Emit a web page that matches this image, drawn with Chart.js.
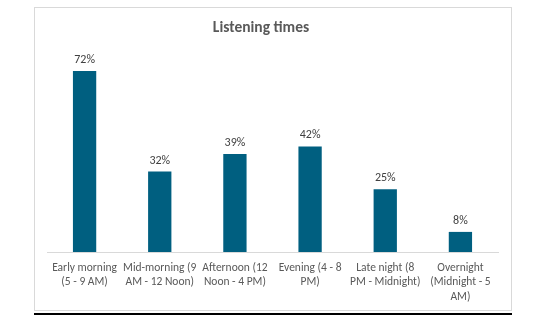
<!DOCTYPE html>
<html>
<head>
<meta charset="utf-8">
<script src="https://cdn.jsdelivr.net/npm/chart.js@4.4.1/dist/chart.umd.min.js"></script>
<style>
html,body{margin:0;padding:0;background:#fff;}
#wrap{position:relative;width:535px;height:326px;}
</style>
</head>
<body>
<div id="wrap"><canvas id="c" width="535" height="326"></canvas></div>
<script>
const chartTitle = "Listening times";
const categories = [
  ["Early morning", "(5 - 9 AM)"],
  ["Mid-morning (9", "AM - 12 Noon)"],
  ["Afternoon (12", "Noon - 4 PM)"],
  ["Evening (4 - 8", "PM)"],
  ["Late night (8", "PM - Midnight)"],
  ["Overnight", "(Midnight - 5", "AM)"]
];
const shares = [72, 32, 39, 42, 25, 8];

const FONT = "Carlito, Lato, 'Open Sans', sans-serif";

const decor = {
  id: 'decor',
  beforeDraw(chart) {
    const ctx = chart.ctx;
    ctx.save();
    ctx.fillStyle = '#fff';
    ctx.fillRect(0, 0, chart.width, chart.height);
    ctx.strokeStyle = '#D9D9D9';
    ctx.lineWidth = 1;
    ctx.strokeRect(34.5, 7.5, 477, 303);
    ctx.strokeStyle = '#000';
    ctx.lineWidth = 2;
    ctx.beginPath();
    ctx.moveTo(34, 314);
    ctx.lineTo(512, 314);
    ctx.stroke();
    ctx.restore();
  },
  afterDatasetsDraw(chart) {
    const ctx = chart.ctx;
    ctx.save();
    ctx.fillStyle = '#404040';
    ctx.font = "12px " + FONT;
    ctx.textAlign = 'center';
    ctx.textBaseline = 'bottom';
    const meta = chart.getDatasetMeta(0);
    meta.data.forEach((bar, i) => {
      ctx.fillText(shares[i] + '%', bar.x, bar.y - 5);
    });
    ctx.fillStyle = '#595959';
    ctx.font = "bold 15.5px " + FONT;
    ctx.textBaseline = 'alphabetic';
    ctx.fillText(chartTitle, 261, 32);
    ctx.restore();
  }
};

new Chart(document.getElementById('c'), {
  type: 'bar',
  data: {
    labels: categories,
    datasets: [{
      data: shares,
      backgroundColor: '#005F80',
      borderWidth: 0,
      categoryPercentage: 1,
      barPercentage: 0.31
    }]
  },
  options: {
    responsive: false,
    animation: false,
    devicePixelRatio: 1,
    layout: { padding: { left: 47, right: 37, top: 51, bottom: 0 } },
    plugins: { legend: { display: false }, tooltip: { enabled: false }, title: { display: false } },
    scales: {
      x: {
        grid: { display: false, drawTicks: false },
        border: { display: true, color: '#D9D9D9', width: 1 },
        ticks: {
          color: '#595959',
          font: { family: FONT, size: 11.5, lineHeight: 1.25 },
          padding: 9,
          maxRotation: 0,
          autoSkip: false
        },
        afterFit(scale) { scale.height = 74; }
      },
      y: {
        display: false,
        min: 0,
        max: 80
      }
    }
  },
  plugins: [decor]
});
</script>
</body>
</html>
